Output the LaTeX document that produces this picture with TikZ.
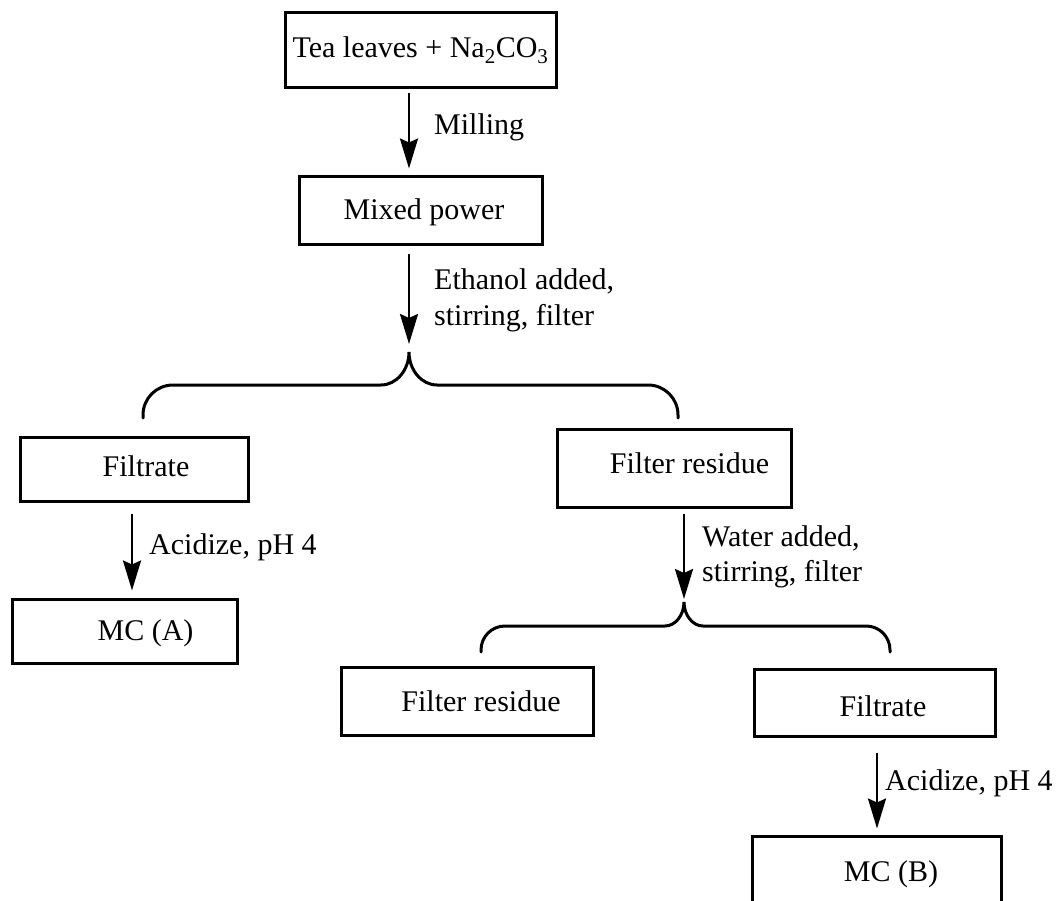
\documentclass[tikz,border=0pt]{standalone}
\usepackage{fontspec}
\setmainfont{Liberation Serif}
\usetikzlibrary{arrows.meta}
\begin{document}
\begin{tikzpicture}[x=1pt,y=-1pt,
  box/.style={draw, line width=3pt, rectangle, inner sep=0pt, text depth=7pt,
    font=\fontsize{30}{36}\selectfont},
  lbl/.style={inner sep=0pt, anchor=base west, font=\fontsize{30}{36}\selectfont},
  arr/.style={line width=2.6pt, -{Stealth[length=30pt,width=18pt,inset=4pt]}},
  brace/.style={line width=3pt, line cap=round}]
\useasboundingbox (0,0) rectangle (1057,901);
\clip (0,0) rectangle (1057,901);

% boxes
\node[box, minimum width=271pt, minimum height=75pt, text height=22pt] (b1) at (420.5,50.5)
  {Tea leaves + Na\textsubscript{2}CO\textsubscript{3}};
\node[box, minimum width=243pt, minimum height=68pt, text height=25pt] (b2) at (420.5,211)
  {\hspace*{7pt}Mixed power};
\node[box, minimum width=228pt, minimum height=64pt, text height=21pt] (fL) at (134,469)
  {\hspace*{24pt}Filtrate};
\node[box, minimum width=225pt, minimum height=64pt, text height=25pt] (mcA) at (124.5,631)
  {\hspace*{42pt}MC (A)};
\node[box, minimum width=234pt, minimum height=78pt, text height=17.6pt] (frU) at (674,468)
  {\hspace*{31pt}Filter residue};
\node[box, minimum width=252pt, minimum height=68pt, text height=27pt] (frL) at (467,701)
  {\hspace*{28pt}Filter residue};
\node[box, minimum width=241pt, minimum height=67pt, text height=35.6pt] (fR) at (874.5,702.5)
  {\hspace*{17pt}Filtrate};
\node[box, minimum width=249pt, minimum height=71.6pt, text height=27pt] (mcB) at (876.5,871.8)
  {\hspace*{29pt}MC (B)};

% brace tips
\coordinate (t1) at (409,352);
\coordinate (t2) at (684,602);

% arrows
\draw[arr, shorten <=4pt, shorten >=7pt] ([xshift=-11.5pt]b1.south) -- ([xshift=-11.5pt]b1.south |- b2.north);
\draw[arr, shorten <=8pt, shorten >=8pt] ([xshift=-11.5pt]b2.south) -- (t1);
\draw[arr, shorten <=11pt, shorten >=7pt] ([xshift=-2pt]fL.south) -- ([xshift=-2pt]fL.south |- mcA.north);
\draw[arr, shorten <=5pt, shorten >=3pt] ([xshift=10pt]frU.south) -- (t2);
\draw[arr, shorten <=15pt, shorten >=6pt] ([xshift=2.5pt]fR.south) -- ([xshift=2.5pt]fR.south |- mcB.north);

% labels
\node[lbl] (l1) at (434,135) {Milling};
\node[lbl] (l2a) at (434,289.3) {Ethanol added,};
\node[lbl] (l2b) at (434,325) {stirring, filter};
\node[lbl] (l3) at (149,554) {Acidize, pH 4};
\node[lbl] (l4a) at (702,546) {Water added,};
\node[lbl] (l4b) at (702,581.7) {stirring, filter};
\node[lbl] (l5) at (885,790.3) {Acidize, pH 4};

% braces
\draw[brace] (143,418) -- (143,415) .. controls (143,398.4) and (156.4,385) .. (173,385)
  -- (381,385) .. controls (396.5,385) and (409,370) .. (t1)
  .. controls (409,370) and (421.5,385) .. (437,385)
  -- (648,385) .. controls (664.6,385) and (678,398.4) .. (678,415) -- (678,418);
\draw[brace] (481,652) -- (481,650) .. controls (481,636.7) and (491.7,626) .. (505,626)
  -- (665,626) .. controls (675.5,626) and (684,615) .. (t2)
  .. controls (684,615) and (692.5,626) .. (703,626)
  -- (866,626) .. controls (879.3,626) and (890,636.7) .. (890,650) -- (890,652);
\end{tikzpicture}
\end{document}
